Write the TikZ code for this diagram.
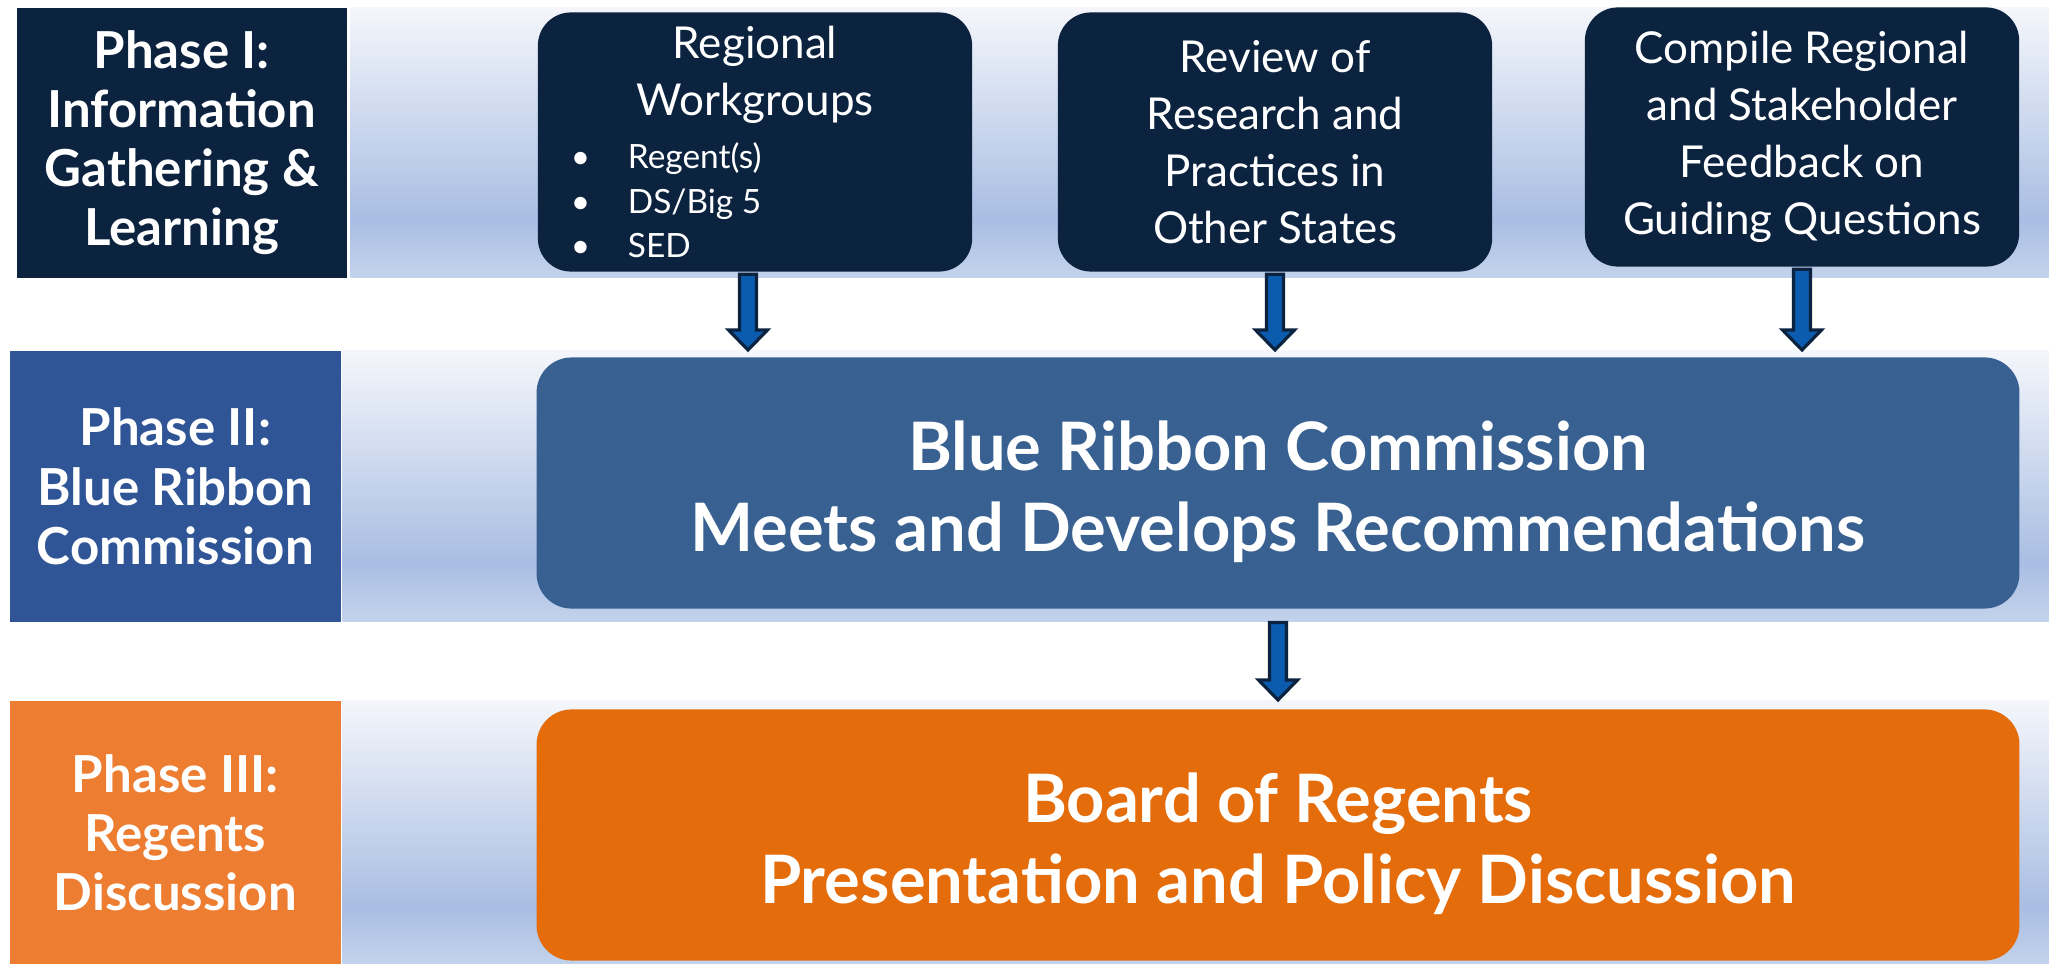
\documentclass[tikz,border=0pt]{standalone}
\usepackage{fontspec}
\setmainfont{Lato}
\usetikzlibrary{positioning, calc}
\definecolor{mNavy}{HTML}{0C233F}
\definecolor{mArrow}{HTML}{0B5BAE}
\definecolor{mPhaseTwo}{HTML}{2F5597}
\definecolor{mCommission}{HTML}{386192}
\definecolor{mPhaseThree}{HTML}{ED7D31}
\definecolor{mBoard}{HTML}{E46C0A}
\definecolor{bandTop}{HTML}{F4F6FB}
\definecolor{bandPeak}{HTML}{A9BEE3}
\definecolor{bandLow}{HTML}{C4D3EC}
\pgfdeclareverticalshading{bandshade}{100bp}{color(0bp)=(bandLow); color(25bp)=(bandLow); color(36bp)=(bandPeak); color(75bp)=(bandTop); color(100bp)=(bandTop)}

\tikzset{
  band/.style={shading=bandshade, inner sep=0pt, anchor=north west},
  phasebox/.style={fill=#1, text=white, font=\bfseries\fontsize{14.5}{16.8}\selectfont,
    align=center, inner sep=0pt, minimum width=3.31cm, anchor=north west},
  topbox/.style={fill=mNavy, rounded corners=0.33cm, text=white,
    font=\fontsize{12.5}{16.2}\selectfont, align=center,
    minimum width=4.34cm, minimum height=2.59cm, inner sep=0pt},
  bigbox/.style={fill=#1, rounded corners=0.35cm, text=white,
    font=\bfseries\fontsize{19}{23}\selectfont, align=center,
    minimum width=14.82cm, minimum height=2.51cm},
  flowarrow/.style={fill=mArrow, draw=mNavy, line width=0.9pt}
}

% block arrow pointing down: #1 top of shaft, #2 tip
\newcommand{\flowdown}[2]{%
  \draw[flowarrow] ($(#1)+(-8.5,0)$) -- ($(#2)+(-8.5,-20)$) -- ($(#2)+(-19.5,-20)$)
    -- (#2) -- ($(#2)+(19.5,-20)$) -- ($(#2)+(8.5,-20)$) -- ($(#1)+(8.5,0)$) -- cycle;}

\begin{document}
\begin{tikzpicture}[x=0.01cm, y=-0.01cm]
  \useasboundingbox (0,0) rectangle (2049,964);

  % background bands
  \node[band, minimum width=16.99cm, minimum height=2.70cm] (band1) at (350,7) {};
  \node[band, minimum width=17.07cm, minimum height=2.71cm] (band2) at (342,350) {};
  \node[band, minimum width=17.07cm, minimum height=2.64cm] (band3) at (342,700) {};

  % phase labels
  \node[phasebox=mNavy, minimum width=3.30cm, minimum height=2.70cm] (ph1) at (16,7)
    {Phase I:\\Information\\Gathering \&\\Learning};
  \node[phasebox=mPhaseTwo, minimum height=2.71cm] (ph2) at (9,350)
    {Phase II:\\Blue Ribbon\\Commission};
  \node[phasebox=mPhaseThree, minimum height=2.64cm] (ph3) at (9,700)
    {Phase III:\\Regents\\Discussion};

  % phase I steps
  \node[topbox] (regional) at (755,142) {Regional\\Workgroups\\[-1pt]
    \parbox[t]{3.68cm}{\raggedright\fontsize{9.5}{12.6}\selectfont
      \makebox[0.57cm][l]{\textbullet}Regent(s)\\
      \makebox[0.57cm][l]{\textbullet}DS/Big 5\\
      \makebox[0.57cm][l]{\textbullet}SED}};
  \node[topbox] (review) at (1275,142)
    {Review of\\Research and\\Practices in\\Other States};
  \node[topbox] (compile) at (1802,137)
    {Compile Regional\\and Stakeholder\\Feedback on\\Guiding Questions};

  % phase II and III
  \node[bigbox=mCommission] (commission) at (1278,483)
    {\rule{0pt}{19pt}Blue Ribbon Commission\\Meets and Develops Recommendations};
  \node[bigbox=mBoard] (board) at (1278,835)
    {\rule{0pt}{19pt}Board of Regents\\Presentation and Policy Discussion};

  % arrows
  \foreach \src/\dx in {regional/-7, review/0, compile/0} {
    \coordinate (\src-top) at ($(\src.south)+(\dx,2)$);
    \coordinate (\src-tip) at (band2.north -| \src-top);
    \flowdown{\src-top}{\src-tip}
  }
  \coordinate (commission-top) at (band2.south -| commission.south);
  \coordinate (commission-tip) at (band3.north -| commission.south);
  \flowdown{commission-top}{commission-tip}
\end{tikzpicture}
\end{document}
